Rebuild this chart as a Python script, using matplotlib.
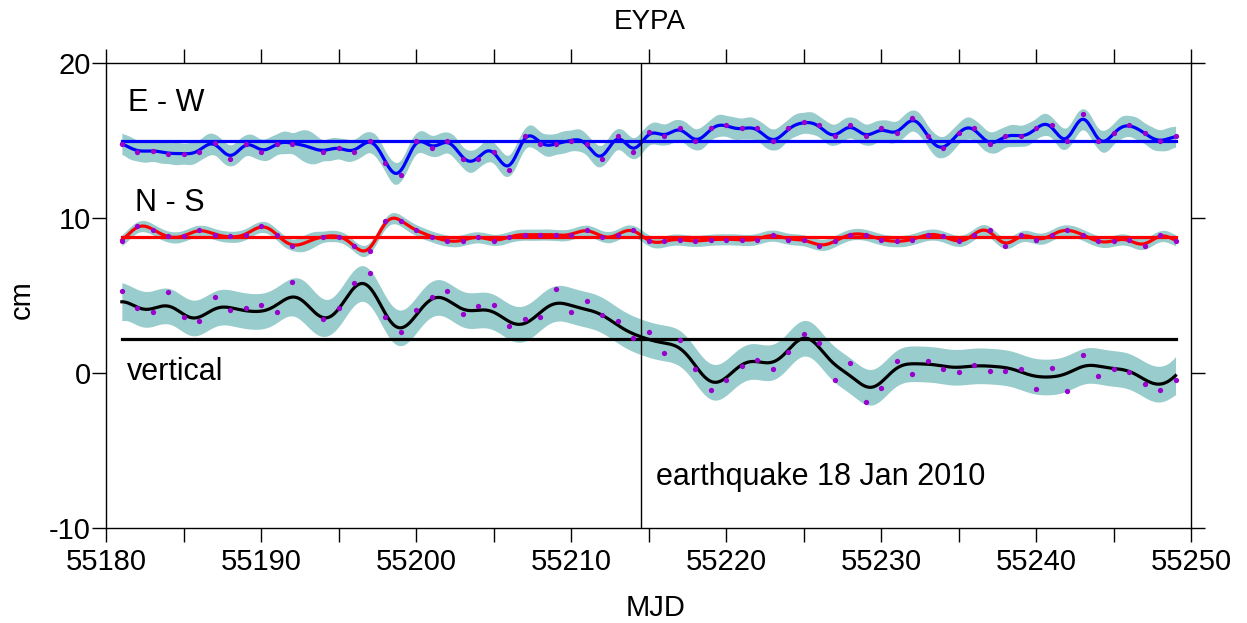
import numpy as np
import matplotlib
matplotlib.use("Agg")
import matplotlib.pyplot as plt
from matplotlib.ticker import MultipleLocator

plt.rcParams["font.family"] = ["Liberation Sans", "DejaVu Sans"]
plt.rcParams["axes.unicode_minus"] = False

# daily solutions, MJD 55181..55249 (55193 missing)
days = np.arange(55181, 55250)

ew = [14.81, 14.30, 14.32, 14.13, 14.13, 14.30, 14.84, 13.85, 14.81, 14.30,
      14.81, 14.81, np.nan, 14.30, 14.52, 14.30, 14.99, 13.59, 12.80, 14.99,
      14.52, 14.99, 13.81, 13.81, 14.30, 13.10, 15.31, 14.81, 14.81, 14.99,
      14.81, 13.81, 15.31, 14.30, 15.55, 15.31, 15.84, 14.99, 15.80, 16.02,
      15.80, 15.80, 14.99, 15.80, 16.21, 16.02, 15.31, 16.02, 15.31, 15.80,
      15.52, 16.49, 15.31, 14.52, 15.52, 15.80, 14.81, 15.31, 15.31, 15.80,
      16.02, 14.99, 16.70, 14.99, 15.52, 16.02, 15.52, 14.99, 15.31]

ns = [8.51, 9.52, 9.26, 8.83, 8.83, 9.26, 8.94, 8.83, 8.94, 9.52,
      8.94, 8.23, np.nan, 8.81, 8.81, 8.23, 7.91, 9.84, 9.84, 9.26,
      8.81, 8.55, 8.55, 8.81, 8.55, 8.81, 8.94, 8.94, 8.94, 8.94,
      9.26, 8.81, 8.94, 9.26, 8.51, 8.51, 8.62, 8.51, 8.62, 8.62,
      8.62, 8.62, 8.94, 8.62, 8.62, 8.23, 8.51, 8.94, 8.94, 8.62,
      8.51, 8.62, 8.94, 8.83, 8.51, 8.94, 9.24, 8.23, 8.94, 8.62,
      8.94, 9.24, 8.94, 8.51, 8.51, 8.62, 8.23, 8.94, 8.51]

up = [5.33, 4.22, 3.94, 5.23, 3.62, 3.34, 4.95, 4.05, 4.22, 4.43,
      3.94, 5.91, np.nan, 3.51, 4.22, 5.83, 6.45, 3.62, 2.65, 4.11,
      4.95, 5.33, 3.83, 4.33, 4.43, 3.02, 3.53, 3.62, 5.44, 3.94,
      4.65, 3.73, 3.34, 2.25, 2.65, 1.32, 2.16, 0.25, -1.06, -0.46,
      0.44, 0.87, 0.25, 1.37, 2.55, 1.95, -0.46, 0.66, -1.85, -0.95,
      0.77, -0.05, 0.77, 0.25, 0.06, 0.55, 0.17, 0.17, 0.25, -1.04,
      0.36, -1.15, 1.15, -0.16, 0.25, 0.06, -0.67, -1.06, -0.46]

quake_mjd = 55214.5


def gp_fit(t, y, tt, sf, ell, sn):
    """GP regression (squared-exponential kernel, constant mean)."""
    y = np.asarray(y, dtype=float)
    ok = ~np.isnan(y)
    t, y = t[ok].astype(float), y[ok]
    m = y.mean()
    K = sf**2 * np.exp(-0.5 * ((t[:, None] - t[None, :]) / ell) ** 2)
    K += sn**2 * np.eye(len(t))
    Ks = sf**2 * np.exp(-0.5 * ((tt[:, None] - t[None, :]) / ell) ** 2)
    mu = m + Ks @ np.linalg.solve(K, y - m)
    v = np.linalg.solve(K, Ks.T)
    var = sf**2 - np.sum(Ks * v.T, axis=1)
    return m, mu, np.sqrt(np.maximum(var, 1e-12))


tt = np.linspace(days[0], days[-1], 1400)

fig = plt.figure(figsize=(12.47, 6.23), dpi=100)
ax = fig.add_axes([0.0853, 0.152, 0.8698, 0.7466])

# data, colour, GP amplitude, length scale (days), noise, band half-width (cm)
series = [
    (ew, "#0000ff", 0.8, 0.80, 0.28, 0.70),
    (ns, "#ff0000", 0.5, 0.95, 0.15, 0.36),
    (up, "black", 1.6, 1.30, 0.85, 1.15),
]
for vals, col, sf, ell, sn, half in series:
    m, mu, sd = gp_fit(days, vals, tt, sf, ell, sn)
    w = half * np.sqrt(sd / np.median(sd))
    ax.fill_between(tt, mu - w, mu + w, color="#99cccc", lw=0, zorder=1)
    ax.plot([days[0], days[-1]], [m, m], color=col, lw=2.3, zorder=2)
    ax.plot(tt, mu, color=col, lw=2.3, zorder=3)
    ax.plot(days, vals, "o", color="#9900cc", ms=3.8, mec="none", zorder=4)

ax.axvline(quake_mjd, color="black", lw=1.0, zorder=5)

ax.set_xlim(55180, 55250)
ax.set_ylim(-10, 20)
ax.xaxis.set_major_locator(MultipleLocator(10))
ax.xaxis.set_minor_locator(MultipleLocator(5))
ax.yaxis.set_major_locator(MultipleLocator(10))
ax.tick_params(which="both", direction="out", length=10, width=1.0,
               top=True, right=True, labelsize=21, pad=1)
ax.tick_params(axis="x", which="both", pad=4)
for s in ax.spines.values():
    s.set_linewidth(1.0)

ax.text(55181.4, 17.4, "E - W", fontsize=22, va="center", ha="left")
ax.text(55181.85, 10.95, "N - S", fontsize=22, va="center", ha="left")
ax.text(55181.3, -0.46, "vertical", fontsize=22, va="baseline", ha="left")
ax.text(55215.46, -7.21, "earthquake 18 Jan 2010", fontsize=22,
        va="baseline", ha="left")

fig.text(22 / 1247, 1 - 300 / 623, "cm", fontsize=21, rotation=90,
         ha="center", va="center")
fig.text(656 / 1247, 1 - 608 / 623, "MJD", fontsize=21,
         ha="center", va="center")
fig.text(650 / 1247, 1 - 22 / 623, "EYPA", fontsize=20,
         ha="center", va="center")

fig.savefig("out.png", dpi=100)
